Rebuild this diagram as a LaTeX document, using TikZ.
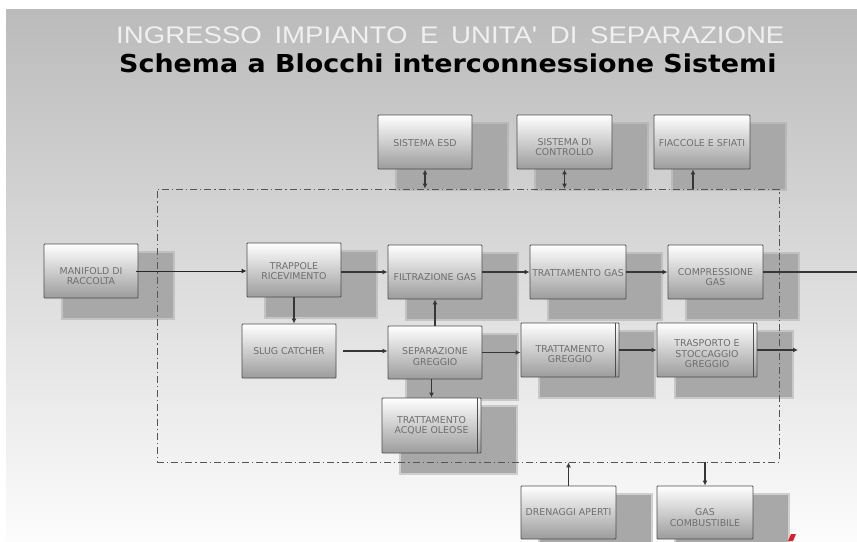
\documentclass[tikz,border=0pt]{standalone}
\usepackage{fontspec}
\setmainfont{DejaVu Sans}
\newfontfamily\titlefont{Liberation Sans}
\usetikzlibrary{arrows.meta,calc}
\pgfdeclarelayer{back}
\pgfdeclarelayer{shad}
\pgfsetlayers{back,shad,main}
\definecolor{bgtop}{HTML}{BBBBBB}
\definecolor{bgmid}{HTML}{E3E3E3}
\definecolor{bgbot}{HTML}{FCFCFC}
\definecolor{shadc}{HTML}{A8A8A8}
\definecolor{boxbot}{HTML}{9C9C9C}
\definecolor{boxedge}{HTML}{4E4E4E}
\definecolor{txtc}{HTML}{6E6E6E}
\definecolor{linec}{HTML}{363636}
\definecolor{titlec}{HTML}{F0F0F0}
\definecolor{framec}{HTML}{555555}
\definecolor{markred}{HTML}{D8202A}
\tikzset{
  box/.style={draw=boxedge, line width=0.9pt, top color=white, bottom color=boxbot,
    inner sep=0pt, rounded corners=0.8pt},
  lbl/.style={text=txtc, font=\fontsize{9.4}{10.5}\selectfont, align=center, inner sep=0pt},
  flow/.style={draw=linec, line width=1.6pt, -{Latex[length=5pt,width=5pt]}},
  flowthin/.style={draw=black!85, line width=0.9pt, -{Latex[length=5pt,width=5pt]}},
  plainflow/.style={draw=linec, line width=1.6pt},
  biflow/.style={draw=linec, line width=1.2pt, {Latex[length=5pt,width=5pt]}-{Latex[length=5pt,width=5pt]}},
  upflow/.style={draw=linec, line width=1.2pt, -{Latex[length=5pt,width=5pt]}},
  frame/.style={draw=framec, line width=0.8pt, dash pattern=on 7pt off 3pt on 1.2pt off 3pt,
    inner sep=0pt},
  inneredge/.style={draw=boxedge, line width=0.9pt}
}
\newcommand{\blocco}[7]{%
  \node[box, minimum width={#4-#2}, minimum height={#5-#3}] (#1) at ({(#2+#4)/2},{(#3+#5)/2}) {};
  \node[lbl] (#1-t) at ([yshift=-#7pt]#1.center) {#6};}
\newcommand{\ombra}[1]{%
  \begin{pgfonlayer}{shad}
  \fill[shadc, opacity=0.5] ($(#1.north west)+(17.5,7.5)$) rectangle ($(#1.south east)+(36.5,21.5)$);
  \fill[shadc] ($(#1.north west)+(19,9)$) rectangle ($(#1.south east)+(35,20)$);
  \end{pgfonlayer}}
\begin{document}
\begin{tikzpicture}[x=1pt,y=-1pt]
\useasboundingbox (0,0) rectangle (857,541);
\begin{pgfonlayer}{back}
  \fill[white] (0,0) rectangle (857,541);
  \shade[top color=bgtop, middle color=bgmid, bottom color=bgbot] (6,9) rectangle (857,541);
\end{pgfonlayer}

% titles
\node[font=\titlefont\fontsize{24}{24}\selectfont, text=titlec, anchor=base west, inner sep=0pt] (t1) at (116,43)
  {\scalebox{1.15}[1]{\spaceskip=11pt INGRESSO IMPIANTO E UNITA' DI SEPARAZIONE}};
\node[font=\bfseries\fontsize{24.7}{25}\selectfont, text=black, anchor=base west, inner sep=0pt] (t2) at (119,72)
  {\scalebox{1.09}[1]{Schema a Blocchi interconnessione Sistemi}};

% frame
\node[frame, minimum width=622, minimum height=273] (area) at (468,325.5) {};

% blocks
\blocco{esd}{378}{115}{472}{169}{SISTEMA ESD}{1}
\blocco{ctrl}{517}{115}{612}{169}{SISTEMA DI\\CONTROLLO}{5}
\blocco{fiac}{654}{115}{750}{169}{FIACCOLE E SFIATI}{1}
\blocco{man}{44}{244}{138}{298}{MANIFOLD DI\\RACCOLTA}{5}
\blocco{trap}{247}{243}{341}{297}{TRAPPOLE\\RICEVIMENTO}{1}
\blocco{filt}{388}{245}{482}{299}{FILTRAZIONE GAS}{5}
\blocco{tgas}{530}{245}{626}{299}{TRATTAMENTO GAS}{1}
\blocco{comp}{668}{245}{763}{299}{COMPRESSIONE\\GAS}{5}
\blocco{slug}{242}{324}{336}{378}{SLUG CATCHER}{0}
\blocco{sep}{388}{326}{482}{379}{SEPARAZIONE\\GREGGIO}{4}
\blocco{tgr}{521}{323}{619}{377}{TRATTAMENTO\\GREGGIO}{4}
\blocco{tras}{657}{323}{757}{377}{TRASPORTO E\\STOCCAGGIO\\GREGGIO}{4}
\blocco{acq}{382}{398}{481}{453}{TRATTAMENTO\\ACQUE OLEOSE}{0}
\blocco{dren}{521}{486}{616}{539}{DRENAGGI APERTI}{0}
\blocco{gasc}{657}{486}{753}{539}{GAS\\COMBUSTIBILE}{5}

% double right edges
\draw[inneredge] ([xshift=-4pt]tgr.north east) -- ([xshift=-4pt]tgr.south east);
\draw[inneredge] ([xshift=-4pt]tras.north east) -- ([xshift=-4pt]tras.south east);
\draw[inneredge] ([xshift=-4pt]acq.north east) -- ([xshift=-4pt]acq.south east);

% shadows
\ombra{esd}\ombra{ctrl}\ombra{fiac}\ombra{man}\ombra{trap}\ombra{filt}\ombra{tgas}
\ombra{comp}\ombra{sep}\ombra{tgr}\ombra{tras}\ombra{acq}\ombra{dren}\ombra{gasc}

% outlets
\coordinate (out1) at (857,272);
\coordinate (out2) at (798,350);

% connectors
\draw[flowthin] ([xshift=-2pt]man.east) -- (man.east -| trap.west);
\draw[flow] (trap.east |- filt.west) -- (filt.west);
\draw[flow] (filt.east) -- (tgas.west);
\draw[flow] (tgas.east) -- (comp.west);
\draw[plainflow] (comp.east) -- (out1);
\draw[upflow] (trap.south) -- (trap.south |- slug.north);
\draw[flow] ([xshift=7pt]slug.east) -- (slug.east -| sep.west);
\draw[upflow] (sep.north) -- (sep.north |- filt.south);
\draw[flow] (sep.east) -- (sep.east -| tgr.west);
\draw[flow] (tgr.east) -- (tras.west);
\draw[flow] (tras.east) -- (out2);
\draw[upflow] (acq.north |- sep.south) -- (acq.north);
\draw[upflow] (dren.north) -- (dren.north |- area.south);
\draw[upflow] (gasc.north |- area.south) -- (gasc.north);
\draw[biflow] (esd.south) -- (esd.south |- area.north);
\draw[biflow] (ctrl.south) -- (ctrl.south |- area.north);
\draw[upflow] ([xshift=-9pt]fiac.south |- area.north) -- ([xshift=-9pt]fiac.south);

% small red mark
\fill[markred] (788,541) -- (791,534) -- (796,534) -- (793,541) -- cycle;
\end{tikzpicture}
\end{document}
